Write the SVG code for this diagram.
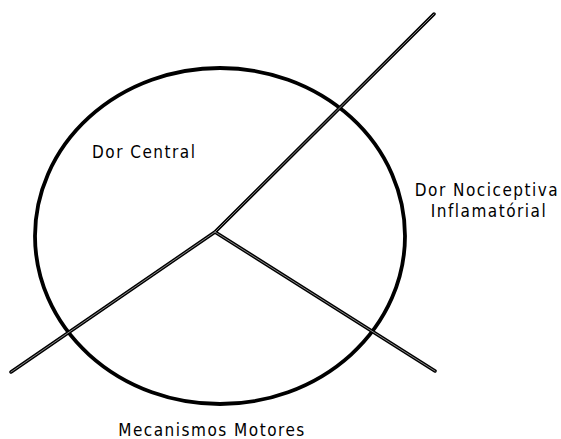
<svg xmlns="http://www.w3.org/2000/svg" width="561" height="439" viewBox="0 0 561 439">
<style>
.lbl{font-family:"DejaVu Sans Condensed","DejaVu Sans",Verdana,sans-serif;font-stretch:condensed;font-size:17px;letter-spacing:1.5px;fill:#000}
.outer{stroke:#000;stroke-width:3.5;fill:none;stroke-linecap:round}
.inner{stroke:#888;stroke-width:1;fill:none;stroke-linecap:round}
</style>
<rect width="561" height="439" fill="#fff"/>
<g id="circle">
<ellipse cx="220" cy="236" rx="185" ry="168" fill="none" stroke="#000" stroke-width="3.8"/>
</g>
<g id="connectors">
<path class="outer" d="M215 232 L434 14 M215 232 L11 372 M215 232 L435 371"/>
<path class="inner" d="M215 232 L434 14 M215 232 L11 372 M215 232 L435 371"/>
</g>
<g id="dor-central"><text class="lbl" x="92" y="158">Dor Central</text></g>
<g id="dor-nociceptiva"><text class="lbl" x="487" y="196" text-anchor="middle">Dor Nociceptiva</text><text class="lbl" x="489" y="217" text-anchor="middle">Inflamatórial</text></g>
<g id="mecanismos"><text class="lbl" x="212" y="436" text-anchor="middle">Mecanismos Motores</text></g>
</svg>
